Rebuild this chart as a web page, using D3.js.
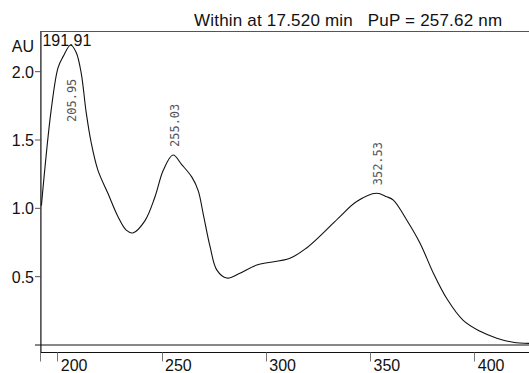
<!DOCTYPE html>
<html>
<head>
<meta charset="utf-8">
<script src="https://cdn.jsdelivr.net/npm/d3@7"></script>
<style>
  html, body { margin: 0; padding: 0; background: #fff; }
  svg { display: block; }
  text { font-family: "Liberation Sans", Arial, sans-serif; }
  text.peak { font-family: "DejaVu Sans Mono", "Liberation Mono", monospace; }
  text.title { white-space: pre; letter-spacing: 0.2px; }
</style>
</head>
<body>
<svg id="chart" width="529" height="373"></svg>
<script>
// ---- data ----
const wavelengths = [191.91, 196.6, 199.9, 202.3, 205.95, 208.6, 211.0, 213.4, 215.8, 219.0, 223.8, 228.6, 232.6, 235.8, 241.6, 246.4, 250.4, 255.03, 259.2, 264.0, 267.1, 269.5, 272.8, 276.0, 280.8, 287.1, 295.2, 311.1, 319.1, 327.1, 335.1, 343.1, 352.53, 357.5, 360.7, 367.1, 373.5, 379.9, 386.3, 394.2, 402.3, 410.3, 418.2, 425.75];
const absorbance = [1.02, 1.72, 2.03, 2.11, 2.195, 2.14, 1.99, 1.70, 1.48, 1.28, 1.11, 0.94, 0.84, 0.82, 0.91, 1.085, 1.28, 1.39, 1.32, 1.23, 1.13, 0.96, 0.72, 0.55, 0.49, 0.525, 0.585, 0.635, 0.71, 0.82, 0.94, 1.05, 1.11, 1.085, 1.06, 0.915, 0.745, 0.525, 0.34, 0.18, 0.10, 0.05, 0.02, 0.012];
const peakLabels = ["205.95", "255.03", "352.53"];
const xTicks = [200, 250, 300, 350, 400];
const yTicks = [0.5, 1.0, 1.5, 2.0];
const yTickLabels = ["0.5", "1.0", "1.5", "2.0"];
const startLabel = "191.91";
const titleText = "Within at 17.520 min   PuP = 257.62 nm";
const yUnit = "AU";

(function () {
// ---- layout ----
const svg = d3.select("#chart");
const left = 41.4, right = 529, plotTop = 31, zeroY = 345, axisY = 352.5;
const x = d3.scaleLinear().domain([191.91, 425.75]).range([left, right]);
const y = d3.scaleLinear().domain([0, 2.2976]).range([zeroY, plotTop]);

// top frame line
svg.append("line").attr("x1", left).attr("x2", right).attr("y1", plotTop + 0.5).attr("y2", plotTop + 0.5)
  .attr("stroke", "#555").attr("stroke-width", 1);

// left axis
svg.append("line").attr("x1", left - 0.5).attr("x2", left - 0.5).attr("y1", plotTop).attr("y2", axisY)
  .attr("stroke", "#111").attr("stroke-width", 1.2);

// zero line
svg.append("line").attr("x1", 35).attr("x2", right).attr("y1", zeroY).attr("y2", zeroY)
  .attr("stroke", "#111").attr("stroke-width", 1);

// bottom axis line
svg.append("line").attr("x1", left - 1).attr("x2", right).attr("y1", axisY).attr("y2", axisY)
  .attr("stroke", "#111").attr("stroke-width", 1.2);

// x ticks (plus outer tick at start)
const xt = svg.append("g");
[191.91].concat(xTicks).forEach(v => {
  xt.append("line").attr("x1", Math.round(x(v)) - 0.5).attr("x2", Math.round(x(v)) - 0.5)
    .attr("y1", axisY).attr("y2", axisY + 9).attr("stroke", "#777").attr("stroke-width", 1);
});
xTicks.forEach(v => {
  xt.append("text").attr("x", x(v) + 2.5).attr("y", 371).attr("font-size", 16)
    .attr("fill", "#111").text(v);
});

// y ticks
const yt = svg.append("g");
yTicks.forEach((v, i) => {
  yt.append("line").attr("x1", 35).attr("x2", left).attr("y1", y(v)).attr("y2", y(v))
    .attr("stroke", "#555").attr("stroke-width", 1);
  yt.append("text").attr("x", 34).attr("y", y(v) + 6).attr("text-anchor", "end")
    .attr("font-size", 16).attr("fill", "#111").text(yTickLabels[i]);
});
svg.append("text").attr("x", 34).attr("y", 52).attr("text-anchor", "end")
  .attr("font-size", 16).attr("fill", "#111").text(yUnit);

// title
svg.append("text").attr("class", "title").attr("xml:space", "preserve")
  .attr("x", 194).attr("y", 26).attr("font-size", 17)
  .attr("fill", "#111").text(titleText);

// start label
svg.append("text").attr("x", x(191.91) + 1).attr("y", 46).attr("font-size", 16)
  .attr("fill", "#111").text(startLabel);

// curve
const pts = wavelengths.map((w, i) => [w, absorbance[i]]);
const line = d3.line().x(d => x(d[0])).y(d => y(d[1])).curve(d3.curveCatmullRom.alpha(0.5));
svg.append("path").datum(pts).attr("d", line).attr("fill", "none")
  .attr("stroke", "#111").attr("stroke-width", 1.1);

// peak labels (rotated)
peakLabels.forEach((lab, i) => {
  const w = +lab;
  const idx = wavelengths.indexOf(w);
  const px = x(w) + 1.8;
  let endY = y(absorbance[idx]) - 8;
  if (endY - 44 < plotTop) endY = y(absorbance[idx]) + 77; // no room above: draw under the apex
  svg.append("text").attr("class", "peak")
    .attr("transform", `translate(${px},${endY}) rotate(-90)`)
    .attr("dominant-baseline", "central")
    .attr("font-size", 12).attr("fill", "#555").text(lab);
});
})();
</script>
</body>
</html>
